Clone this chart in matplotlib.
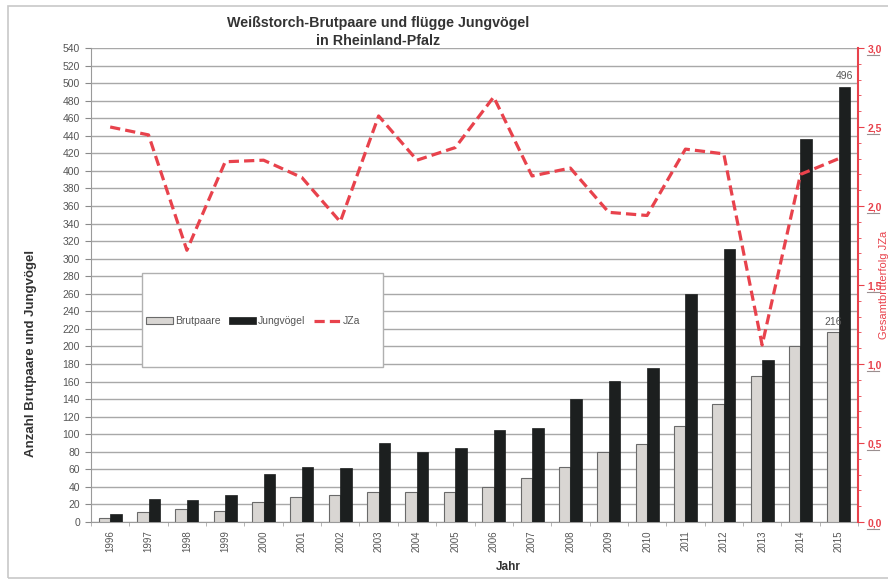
import matplotlib
matplotlib.use("Agg")
import matplotlib.pyplot as plt
import numpy as np
from matplotlib.patches import Rectangle
from matplotlib.lines import Line2D
from matplotlib.transforms import blended_transform_factory, ScaledTranslation

plt.rcParams['font.family'] = ['Liberation Sans', 'DejaVu Sans']

jahre = [str(y) for y in range(1996, 2016)]
brutpaare = [4, 11, 15, 13, 23, 29, 31, 34, 34, 34, 40, 50, 63, 80, 89, 109, 134, 166, 201, 216]
jungvoegel = [9, 26, 25, 31, 55, 63, 61, 90, 80, 84, 105, 107, 140, 161, 175, 260, 311, 184, 436, 496]
jza = [2.50, 2.45, 1.72, 2.28, 2.29, 2.18, 1.90, 2.57, 2.29, 2.37, 2.69, 2.19, 2.24,
       1.96, 1.94, 2.36, 2.33, 1.12, 2.20, 2.30]

titel = "Weißstorch-Brutpaare und flügge Jungvögel\nin Rheinland-Pfalz"
ylabel_links = "Anzahl Brutpaare und Jungvögel"
ylabel_rechts = "Gesamtbruterfolg JZa"
xlabel = "Jahr"

grey_txt = "#555555"
red = "#e8424c"

W, H = 888, 584
fig = plt.figure(figsize=(W / 100, H / 100), dpi=100)
fig.patch.set_facecolor("white")

# outer frame of the chart (runs off the right edge)
fig.add_artist(Rectangle((8 / W, 6 / H), 900 / W, 572 / H, transform=fig.transFigure,
                         fill=False, edgecolor="#c8c8c8", linewidth=1.2))

ax = fig.add_axes([91 / W, 1 - 522 / H, 767 / W, 474 / H])
x = np.arange(len(jahre))
w = 0.30
ax.bar(x - w / 2, brutpaare, w, color="#d9d6d3", edgecolor="#6a6a6a", linewidth=0.8, zorder=3,
       label="Brutpaare")
ax.bar(x + w / 2, jungvoegel, w, color="#1c1f1f", edgecolor="#1c1f1f", linewidth=0.5, zorder=3,
       label="Jungvögel")

ax.set_xlim(-0.5, len(jahre) - 0.5)
ax.set_ylim(0, 540)
ax.set_yticks(np.arange(0, 541, 20))
ax.tick_params(axis="y", labelsize=7.5, colors="#8a8a8a", labelcolor=grey_txt, length=4, pad=4)
ax.set_xticks(x)
ax.set_xticklabels(jahre, rotation=90, fontsize=7, color=grey_txt)
ax.set_xticks(np.arange(-0.5, len(jahre), 1), minor=True)
ax.tick_params(axis="x", which="major", length=0, pad=6)
ax.tick_params(axis="x", which="minor", length=3, color="#aaaaaa")
ax.grid(axis="y", color="#a8a8a8", linewidth=1.0, zorder=0)
for s in ["top", "right"]:
    ax.spines[s].set_visible(False)
ax.spines["left"].set_color("#9a9a9a")
ax.spines["bottom"].set_color("#9a9a9a")

ax.text(x[-1] + w / 2, jungvoegel[-1] + 6, str(jungvoegel[-1]), ha="center", va="bottom",
        fontsize=7.5, color=grey_txt, zorder=4)
ax.text(x[-1] - w / 2, brutpaare[-1] + 6, str(brutpaare[-1]), ha="center", va="bottom",
        fontsize=7.5, color=grey_txt, zorder=4)

ax2 = ax.twinx()
ax2.plot(x, jza, color=red, linestyle=(0, (3.2, 1.6)), linewidth=2.3, zorder=5, label="JZa")
ax2.set_ylim(0, 3.0)
rticks = np.arange(0, 3.01, 0.5)
ax2.set_yticks(rticks)
ax2.set_yticklabels([f"{v:.1f}".replace(".", ",") for v in rticks],
                    fontsize=7.5, fontweight="bold", color=red)
ax2.set_yticks(np.arange(0, 3.01, 0.1), minor=True)
ax2.tick_params(axis="y", which="major", colors=red, length=4, pad=3, labelcolor=red)
ax2.tick_params(axis="y", which="minor", colors=red, length=2)
for s in ["top", "left", "bottom"]:
    ax2.spines[s].set_visible(False)
ax2.spines["right"].set_color(red)
ax2.spines["right"].set_linewidth(1.5)
ax2.set_ylabel(ylabel_rechts, color=red, fontsize=8)
ax2.yaxis.set_label_coords((879 - 91) / 767, 0.5)

# small underline below every right-hand tick label
trans = blended_transform_factory(fig.transFigure, ax2.transData) + \
    ScaledTranslation(0, -7 / 100, fig.dpi_scale_trans)
for v in rticks:
    fig.add_artist(Line2D([867 / W, 879 / W], [v, v], transform=trans,
                          color="#9a8f90", linewidth=0.8))

fig.text(378 / W, 1 - 32 / H, titel, ha="center", va="center", fontsize=10.3,
         fontweight="bold", color="#333333", linespacing=1.3)
fig.text(31 / W, 1 - 353 / H, ylabel_links, rotation=90, ha="center", va="center",
         fontsize=9.5, fontweight="bold", color="#333333")
fig.text(508 / W, 1 - 567 / H, xlabel, ha="center", va="center", fontsize=8.5,
         fontweight="bold", color="#333333")

# legend box
ax.add_patch(Rectangle(((142 - 91) / 767, (522 - 367) / 474), 241 / 767, 94 / 474,
                       transform=ax.transAxes, facecolor="white", edgecolor="#b0b0b0",
                       linewidth=1.0, zorder=6))
h1, l1 = ax.get_legend_handles_labels()
h2, l2 = ax2.get_legend_handles_labels()
leg = ax.legend(h1 + h2, l1 + l2, ncol=3, loc="center left",
                bbox_to_anchor=((146 - 91) / 767, (522 - 321) / 474),
                fontsize=7.5, frameon=False, handlelength=2.6, handleheight=0.6,
                handletextpad=0.2, columnspacing=0.8, borderaxespad=0, borderpad=0)
leg.set_zorder(7)
for t in leg.get_texts():
    t.set_color(grey_txt)

fig.savefig("out.png", dpi=100)
